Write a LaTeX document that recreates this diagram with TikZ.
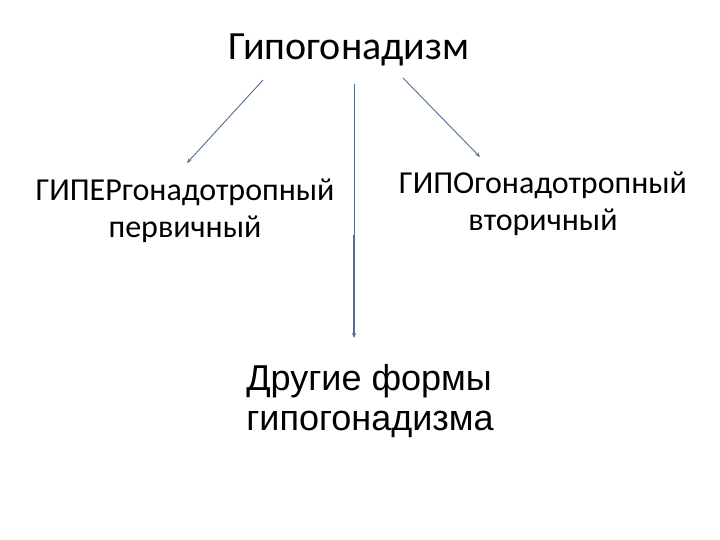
\documentclass[tikz,border=0pt]{standalone}
\usepackage{fontspec}
\setmainfont{Carlito}
\newfontfamily\arialfont{Liberation Sans}
\usetikzlibrary{arrows.meta}
\definecolor{linkblue}{RGB}{82,110,150}

\begin{document}
\begin{tikzpicture}[x=1pt,y=-1pt,
    lbl/.style={align=center,font=\fontsize{32}{37}\selectfont},
    link/.style={draw=linkblue,line width=0.9pt,-{Stealth[length=5pt,width=4pt]}}]
        \useasboundingbox (0,0) rectangle (720,540);

        \node (title) at (349,50) {\fontsize{40}{44}\selectfont Гипогонадизм};
        \node[lbl] (hyper) at (185,211) {ГИПЕРгонадотропный\\первичный};
        \node[lbl] (hypo) at (543,204) {ГИПОгонадотропный\\вторичный};
        \node[align=left,font=\arialfont\fontsize{36}{40}\selectfont] (other) at (370,401)
          {Другие формы\\гипогонадизма};

        \coordinate (lfrom) at (263,80);
        \coordinate (lto) at (187,163);
        \coordinate (rfrom) at (403,78);
        \coordinate (rto) at (480,157);
        \coordinate (vfrom) at (354,84);
        \coordinate (vmid) at (354,235);
        \coordinate (vto) at (354,338);

        \draw[link] (lfrom) -- (lto);
        \draw[link] (rfrom) -- (rto);
        \draw[draw=linkblue,line width=0.8pt] (vfrom) -- (vmid);
        \draw[link,line width=1.5pt] (vmid) -- (vto);
      \end{tikzpicture}
\end{document}
